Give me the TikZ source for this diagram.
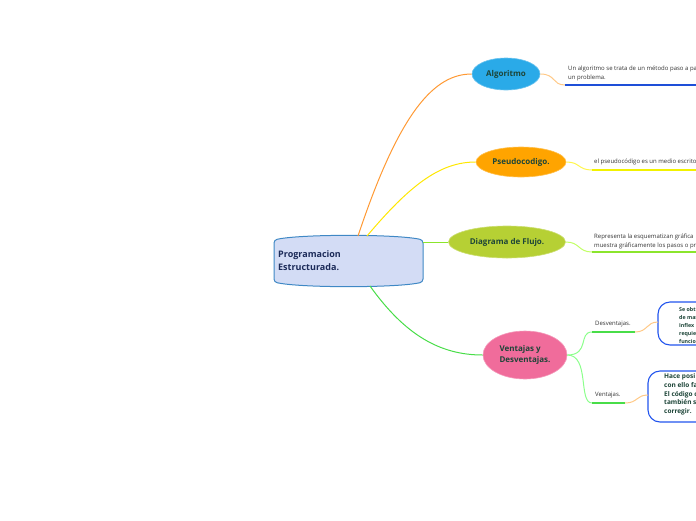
\documentclass[tikz,border=0pt]{standalone}
\usepackage{fontspec}
\setmainfont{Open Sans}
\usepackage{xcolor}
\usepackage{tikz}
\usetikzlibrary{shapes.geometric}
\definecolor{rootfill}{HTML}{D3DCF5}
\definecolor{rootline}{HTML}{3F88C5}
\definecolor{navy}{HTML}{1C2B59}
\definecolor{leaftxt}{HTML}{1D4538}
\definecolor{algfill}{HTML}{2AAAE8}
\definecolor{pseufill}{HTML}{FFA400}
\definecolor{diagfill}{HTML}{B6D034}
\definecolor{ventfill}{HTML}{F06C9B}
\definecolor{peach}{HTML}{FFC987}
\definecolor{ulblue}{HTML}{1E4FD8}
\definecolor{ulyellow}{HTML}{F2F200}
\definecolor{ulgreen}{HTML}{8BE52C}
\definecolor{brgreen}{HTML}{48DD48}
\definecolor{boxline}{HTML}{2255EE}

\begin{document}
\begin{tikzpicture}[x=1pt,y=-1pt,font=\fontsize{6}{9}\selectfont,
  topic/.style={ellipse,draw=#1!70!white,fill=#1,line width=0.6pt,text=leaftxt,font=\fontsize{8}{11}\selectfont\bfseries,inner sep=0pt},
  note/.style={anchor=west,align=left,text=black!80,inner sep=0pt},
  card/.style={draw=boxline,line width=1.1pt,rounded corners=12pt,fill=white},
  link/.style={line width=1pt}]
  \useasboundingbox (0,0) rectangle (696,520);
  \clip (0,0) rectangle (696,520);
  % central topic
  \draw[fill=rootfill,draw=rootline,line width=1pt,rounded corners=3pt]
    (274,240) .. controls (300,234) and (397,234) .. (423,240) -- (423,282)
    .. controls (397,288) and (300,288) .. (274,282) -- cycle;
  \node[anchor=west,align=left,text=navy,font=\fontsize{9}{13}\selectfont\bfseries,inner sep=0pt] (root) at (278,261) {Programacion\\Estructurada.};
  \coordinate (r1) at (358,236); \coordinate (r2) at (367,236);
  \coordinate (r3) at (423,242); \coordinate (r4) at (370,286);
  % main topics
  \node[topic=algfill,minimum width=68pt,minimum height=32pt] (alg) at (506,74) {Algoritmo};
  \node[topic=pseufill,minimum width=90pt,minimum height=30pt] (pseu) at (521,162) {Pseudocodigo.};
  \node[topic=diagfill,minimum width=117pt,minimum height=32pt] (diag) at (507,242) {Diagrama de Flujo.};
  \node[topic=ventfill,minimum width=84pt,minimum height=48pt,align=left] (vent) at (525,355) {Ventajas y\\Desventajas.};
  \draw[link,orange!80] (r1) .. controls (400,110) and (435,74) .. (alg.west);
  \draw[link,yellow!90!orange] (r2) .. controls (410,185) and (440,162) .. (pseu.west);
  \draw[link,ulgreen] (r3) -- (diag.west);
  \draw[link,brgreen] (r4) .. controls (405,335) and (440,355) .. (vent.west);
  % notes
  \coordinate (u1) at (565,85); \coordinate (u1e) at (700,85);
  \draw[link,peach] (alg.east) .. controls (556,74) and (552,85) .. (u1);
  \draw[ulblue,line width=1.6pt] (u1) -- (u1e);
  \node[note] (t1) at (568,73.5) {Un algoritmo se trata de un método paso a pa\\un problema.};
  \coordinate (u2) at (592,170); \coordinate (u2e) at (700,170);
  \draw[link,yellow!70] (pseu.east) .. controls (580,162) and (578,170) .. (u2);
  \draw[ulyellow,line width=1.6pt] (u2) -- (u2e);
  \node[note] (t2) at (594,162) {el pseudocódigo es un medio escrito};
  \coordinate (u3) at (592,252); \coordinate (u3e) at (700,252);
  \draw[link,green!40!yellow!60] (diag.east) .. controls (580,242) and (578,252) .. (u3);
  \draw[ulgreen,line width=1.6pt] (u3) -- (u3e);
  \node[note] (t3) at (594,241.5) {Representa la esquematizan gráfica\\muestra gráficamente los pasos o pr};
  % ventajas / desventajas
  \coordinate (d1) at (592,332); \coordinate (d1e) at (635,332);
  \coordinate (v1) at (592,403); \coordinate (v1e) at (625,403);
  \coordinate (c1) at (658,322); \coordinate (c2) at (648,395);
  \draw[link,green!45] (vent.east) .. controls (590,355) and (578,332) .. (d1);
  \draw[link,green!45] (vent.east) .. controls (590,355) and (578,403) .. (v1);
  \draw[brgreen,line width=1.6pt] (d1) -- (d1e);
  \draw[brgreen,line width=1.6pt] (v1) -- (v1e);
  \node[note] (des) at (595,324) {Desventajas.};
  \node[note] (ven) at (595,395) {Ventajas.};
  \draw[card] (658,302) rectangle (730,345);
  \node[note,text=leaftxt,font=\fontsize{5.3}{7.8}\selectfont\bfseries] (b1) at (679,325.5) {Se obt\\de mas\\Inflex\\requie\\funcio};
  \draw[card] (648,371) rectangle (730,422);
  \node[note,text=leaftxt,font=\fontsize{6.5}{8.6}\selectfont\bfseries] (b2) at (664,394.5) {Hace posi\\con ello fa\\El código c\\también s\\corregir.};
  \draw[link,peach] (d1e) .. controls (648,332) and (646,322) .. (c1);
  \draw[link,peach] (v1e) .. controls (638,403) and (636,395) .. (c2);
\end{tikzpicture}
\end{document}
